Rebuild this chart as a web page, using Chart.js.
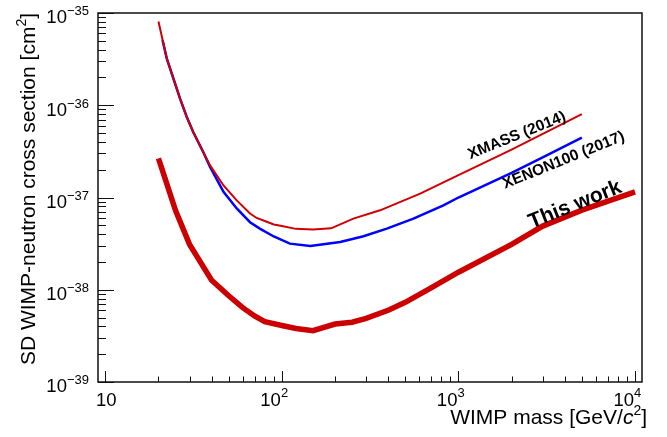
<!DOCTYPE html>
<html>
<head>
<meta charset="utf-8">
<script src="https://cdn.jsdelivr.net/npm/chart.js@4.4.0/dist/chart.umd.min.js"></script>
<style>
  html, body { margin: 0; padding: 0; background: #fff; }
</style>
</head>
<body>
<canvas id="limitChart" width="667" height="437"></canvas>
<script>
// SD WIMP-neutron limits: mass in GeV/c^2, cross section in cm^2
const massXmass  = [20, 22.3, 24.3, 26.5, 28.9, 31.5, 35.9, 39.2, 46.7, 55.5, 66, 72, 80, 90, 100, 120, 150, 190,
                    254, 360, 607, 1000, 2000, 5000];
const sigmaXmass = [8.1e-36, 3.2e-36, 1.95e-36, 1.18e-36, 7.5e-37, 5.1e-37, 3.1e-37, 2.23e-37, 1.35e-37, 9.3e-38,
                    6.7e-38, 6.0e-38, 5.56e-38, 5.1e-38, 4.9e-38, 4.57e-38, 4.5e-38, 4.63e-38,
                    5.9e-38, 7.26e-38, 1.1e-37, 1.75e-37, 3.3e-37, 8.0e-37];

const massXenon  = [21.1, 22.3, 24.3, 26.5, 28.9, 31.5, 35.9, 39.2, 46.7, 55.5, 66, 75, 90, 111, 145, 214, 290,
                    393, 556, 822, 1000, 2000, 3000, 5000];
const sigmaXenon = [5.06e-36, 3.2e-36, 1.95e-36, 1.18e-36, 7.5e-37, 5.1e-37, 3.1e-37, 2.15e-37, 1.15e-37, 7.6e-38,
                    5.4e-38, 4.6e-38, 3.78e-38, 3.16e-38, 2.98e-38, 3.3e-38, 3.8e-38,
                    4.6e-38, 5.9e-38, 8.2e-38, 1.0e-37, 1.85e-37, 2.72e-37, 4.46e-37];

const massThisWork  = [20, 25, 30, 40, 50, 60, 70, 80, 100, 120, 150, 200, 250, 300, 400, 500, 700, 1000, 2000, 3000, 5000, 10000];
const sigmaThisWork = [2.65e-37, 7.2e-38, 3.1e-38, 1.27e-38, 8.6e-39, 6.4e-39, 5.2e-39, 4.5e-39, 4.1e-39, 3.8e-39, 3.6e-39,
                       4.25e-39, 4.45e-39, 4.9e-39, 6.0e-39, 7.3e-39, 1.05e-38, 1.55e-38, 3.1e-38, 4.9e-38, 7.3e-38, 1.15e-37];

const xTickExponents = [1, 2, 3, 4];
const yTickExponents = [-39, -38, -37, -36, -35];
const minorSteps = [2, 3, 4, 5, 6, 7, 8, 9];

// curve labels: text, anchor mass, anchor cross section
const labelTexts  = ['XMASS (2014)', 'XENON100 (2017)', 'This work'];
const labelMass   = [2190, 4030, 4710];
const labelSigma  = [4.24e-37, 2.29e-37, 7.28e-38];

const FONT = '"Liberation Sans", Arial, Helvetica, sans-serif';

function toPoints(xs, ys) {
  return xs.map((m, i) => ({ x: m, y: ys[i] }));
}

// draws text pieces (text, font, baseline shift) so the run ends at xEnd
function drawParts(ctx, parts, xEnd, y) {
  let total = 0;
  const widths = parts.map(p => {
    ctx.font = p[1];
    const w = ctx.measureText(p[0]).width;
    total += w;
    return w;
  });
  let x = xEnd - total;
  ctx.textAlign = 'left';
  parts.forEach((p, i) => {
    ctx.font = p[1];
    ctx.fillText(p[0], x, y + p[2]);
    x += widths[i];
  });
}

// frame, inward ticks, power-of-ten labels and titles, drawn like a ROOT canvas
const rootFrame = {
  id: 'rootFrame',
  afterDraw(chart) {
    const ctx = chart.ctx;
    const a = chart.chartArea;
    const xs = chart.scales.x;
    const ys = chart.scales.y;
    ctx.save();

    ctx.strokeStyle = '#111';
    ctx.lineWidth = 1.5;
    ctx.strokeRect(a.left, a.top, a.right - a.left, a.bottom - a.top);

    ctx.lineWidth = 1;
    ctx.beginPath();
    // x ticks
    for (let e = 0; e <= 4; e++) {
      const dec = Math.pow(10, e);
      [1].concat(minorSteps).forEach(k => {
        const v = k * dec;
        if (v < xs.min || v > xs.max) return;
        const px = Math.round(xs.getPixelForValue(v)) + 0.5;
        const len = k === 1 ? 11 : 5.5;
        ctx.moveTo(px, a.bottom);
        ctx.lineTo(px, a.bottom - len);
      });
    }
    // y ticks
    for (let e = -39; e <= -35; e++) {
      const dec = Math.pow(10, e);
      [1].concat(minorSteps).forEach(k => {
        const v = k * dec;
        if (v < ys.min * 0.999 || v > ys.max * 1.001) return;
        const py = Math.round(ys.getPixelForValue(v)) + 0.5;
        const len = k === 1 ? 16 : 8;
        ctx.moveTo(a.left, py);
        ctx.lineTo(a.left + len, py);
      });
    }
    ctx.stroke();

    ctx.fillStyle = '#000';
    ctx.textBaseline = 'alphabetic';
    const mainFont = '18.5px ' + FONT;
    const supFont = '13px ' + FONT;

    // y tick labels
    yTickExponents.forEach(e => {
      const py = ys.getPixelForValue(Math.pow(10, e));
      const sup = '\u2212' + Math.abs(e);
      ctx.font = mainFont;
      const w1 = ctx.measureText('10').width;
      ctx.font = supFont;
      const w2 = ctx.measureText(sup).width;
      const x0 = a.left - 9 - w1 - w2;
      ctx.textAlign = 'left';
      ctx.font = mainFont;
      ctx.fillText('10', x0, py + 10.3);
      ctx.font = supFont;
      ctx.fillText(sup, x0 + w1, py + 2.3);
    });

    // x tick labels
    xTickExponents.forEach(e => {
      const px = xs.getPixelForValue(Math.pow(10, e));
      const base = a.bottom + 24.3;
      ctx.font = mainFont;
      if (e === 1) {
        ctx.textAlign = 'center';
        ctx.fillText('10', px + 1, base);
      } else {
        ctx.textAlign = 'right';
        ctx.fillText('10', px - 1, base);
        ctx.textAlign = 'left';
        ctx.font = supFont;
        ctx.fillText(String(e), px - 1, base - 9);
      }
    });

    // x title, right aligned to the axis end
    const tFont = '21px ' + FONT;
    const tSup = '14px ' + FONT;
    const tIt = 'italic 21px ' + FONT;
    drawParts(ctx, [
      ['WIMP mass [GeV/', tFont, 0],
      ['c', tIt, 0],
      ['2', tSup, -9],
      [']', tFont, 0]
    ], a.right + 5, a.bottom + 41.5);

    // y title, rotated
    ctx.save();
    ctx.translate(35, a.top);
    ctx.rotate(-Math.PI / 2);
    drawParts(ctx, [
      ['SD WIMP-neutron cross section [cm', tFont, 0],
      ['2', tSup, -9],
      [']', tFont, 0]
    ], 0, 0);
    ctx.restore();

    // curve labels
    const labelFonts = ['bold 15.5px ' + FONT, 'bold 15.5px ' + FONT, 'bold 21px ' + FONT];
    labelTexts.forEach((t, i) => {
      ctx.save();
      ctx.translate(xs.getPixelForValue(labelMass[i]), ys.getPixelForValue(labelSigma[i]));
      ctx.rotate(-22 * Math.PI / 180);
      ctx.font = labelFonts[i];
      ctx.textAlign = 'center';
      ctx.fillText(t, 0, 0);
      ctx.restore();
    });

    ctx.restore();
  }
};

const ctx = document.getElementById('limitChart');
new Chart(ctx, {
  type: 'line',
  data: {
    datasets: [{
      label: 'XMASS (2014)',
      data: toPoints(massXmass, sigmaXmass),
      borderColor: '#d00000',
      borderWidth: 2,
      pointRadius: 0,
      tension: 0,
      fill: false
    }, {
      label: 'XENON100 (2017)',
      data: toPoints(massXenon, sigmaXenon),
      borderColor: '#0000ff',
      borderWidth: 2.5,
      pointRadius: 0,
      tension: 0,
      fill: false
    }, {
      label: 'This work',
      data: toPoints(massThisWork, sigmaThisWork),
      borderColor: '#cc0000',
      borderWidth: 5.5,
      pointRadius: 0,
      tension: 0,
      fill: false
    }]
  },
  options: {
    responsive: false,
    animation: false,
    layout: { padding: { left: 98, right: 25, top: 13, bottom: 55 } },
    plugins: { legend: { display: false }, tooltip: { enabled: false } },
    scales: {
      x: { type: 'logarithmic', display: false, bounds: 'data', min: 9.09, max: 10955 },
      y: { type: 'logarithmic', display: false, bounds: 'data', min: 1e-39, max: 1e-35 }
    }
  },
  plugins: [rootFrame]
});
</script>
</body>
</html>
